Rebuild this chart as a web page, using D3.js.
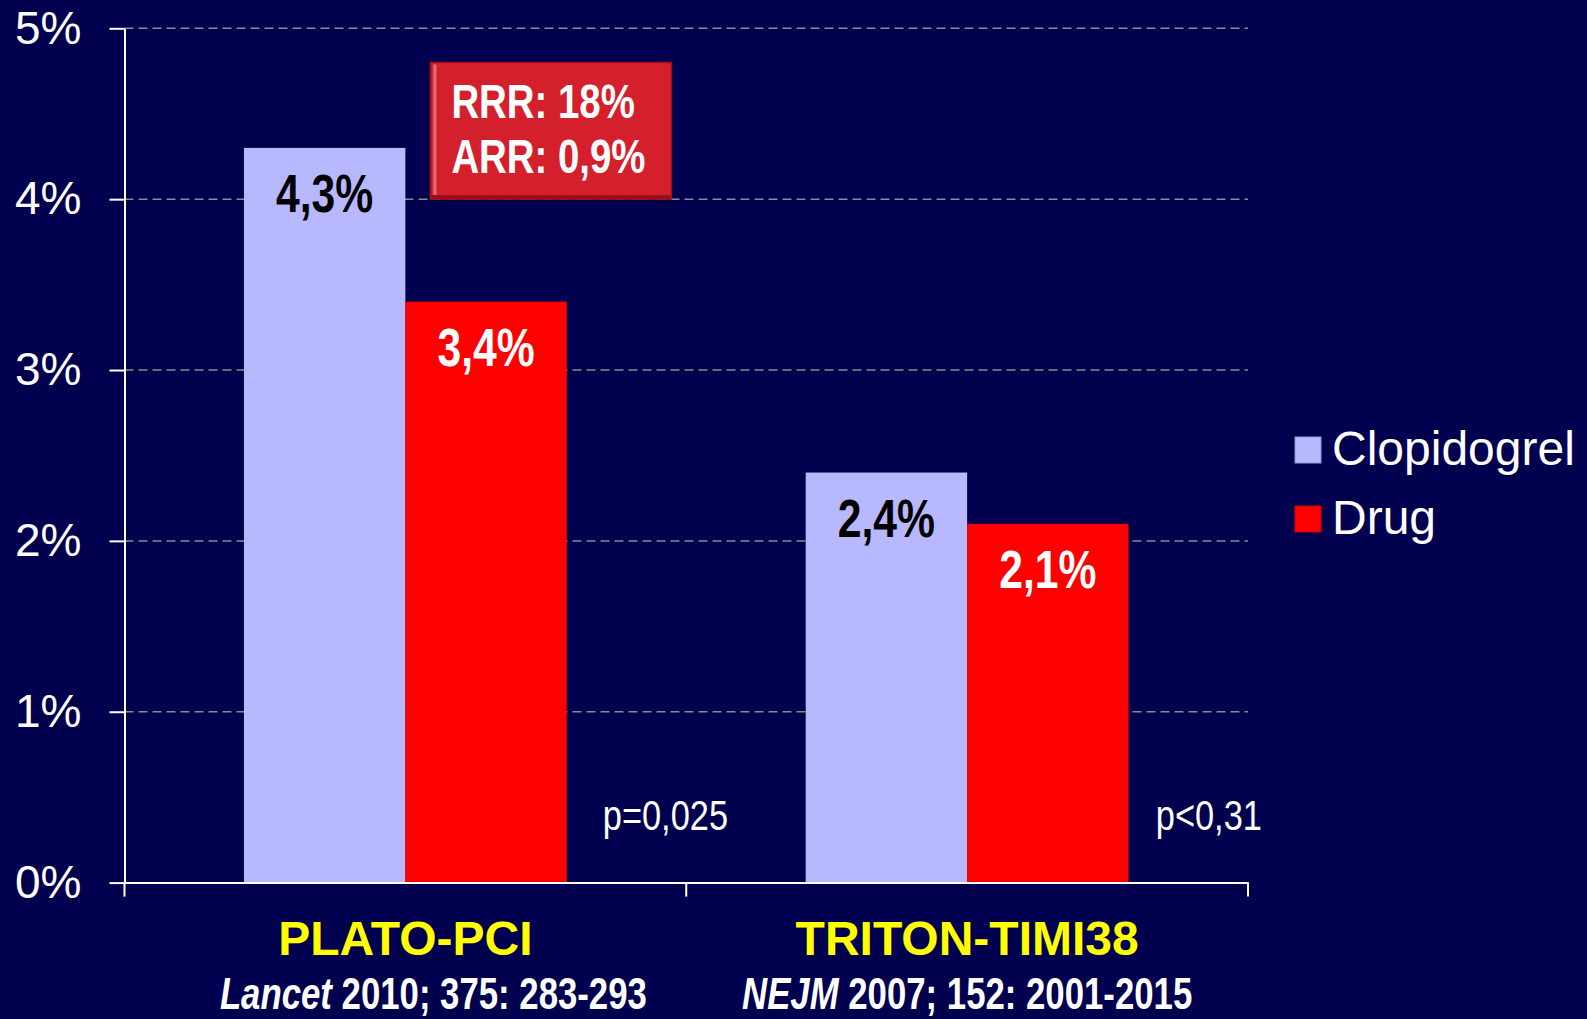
<!DOCTYPE html>
<html>
<head>
<meta charset="utf-8">
<script src="https://d3js.org/d3.v7.min.js"></script>
<style>
  html, body { margin: 0; padding: 0; background: #00004e; }
  svg text { font-family: "Liberation Sans", Arial, sans-serif; }
</style>
</head>
<body>
<div id="chart"></div>
<script>
var width = 1587,
    height = 1019;

// data
var categories = ["PLATO-PCI", "TRITON-TIMI38"];
var journals   = ["Lancet", "NEJM"];
var citations  = [" 2010; 375: 283-293", " 2007; 152: 2001-2015"];
var series     = ["Clopidogrel", "Drug"];
var clopidogrel = [4.3, 2.4];
var drug        = [3.4, 2.1];
var pValues    = ["p=0,025", "p<0,31"];
var yTicks     = [0, 1, 2, 3, 4, 5];
var boxLines   = ["RRR: 18%", "ARR: 0,9%"];

var colors = { "Clopidogrel": "#b8b8ff", "Drug": "#ff0000" };
var labelColors = { "Clopidogrel": "#000000", "Drug": "#ffffff" };

var rows = categories.map(function(c, i) {
  return { cat: c, values: [
    { s: "Clopidogrel", v: clopidogrel[i] },
    { s: "Drug", v: drug[i] } ] };
});

var comma = d3.formatLocale({ decimal: ",", thousands: ".", grouping: [3], currency: ["", ""] });
var fmt = function(v) { return comma.format(".1f")(v) + "%"; };

var svg = d3.select("#chart")
            .append("svg")
            .attr("width", width)
            .attr("height", height);

svg.append("rect")
   .attr("width", width)
   .attr("height", height)
   .attr("fill", "#00004e");

var y = d3.scaleLinear()
          .domain([0, 5])
          .range([882.6, 28.3]);

var x0 = d3.scaleBand()
           .domain(categories)
           .range([124.5, 1248]);

var x1 = d3.scaleBand()
           .domain(series)
           .range([0, x0.bandwidth()])
           .paddingOuter(0.74);

// dashed grid
svg.append("g")
   .selectAll("line")
   .data(yTicks.filter(function(t) { return t > 0; }))
   .enter().append("line")
   .attr("x1", 124.5)
   .attr("x2", 1248)
   .attr("y1", function(d) { return y(d); })
   .attr("y2", function(d) { return y(d); })
   .attr("stroke", "#8c8c8c")
   .attr("stroke-width", 1.5)
   .attr("stroke-dasharray", "9,5");

// bars
var group = svg.selectAll(".grp")
               .data(rows)
               .enter().append("g")
               .attr("class", "grp")
               .attr("transform", function(d) { return "translate(" + x0(d.cat) + ",0)"; });

group.selectAll("rect")
     .data(function(d) { return d.values; })
     .enter().append("rect")
     .attr("x", function(d) { return x1(d.s); })
     .attr("width", x1.bandwidth())
     .attr("y", function(d) { return y(d.v); })
     .attr("height", function(d) { return y(0) - y(d.v); })
     .attr("fill", function(d) { return colors[d.s]; });

group.selectAll(".val")
     .data(function(d) { return d.values; })
     .enter().append("text")
     .attr("class", "val")
     .attr("transform", function(d) {
        return "translate(" + (x1(d.s) + x1.bandwidth() / 2) + "," + (y(d.v) + 64) + ") scale(0.79,1)";
     })
     .attr("text-anchor", "middle")
     .style("font-size", "54px")
     .style("font-weight", "bold")
     .attr("fill", function(d) { return labelColors[d.s]; })
     .text(function(d) { return fmt(d.v); });

// p values next to the red bars
group.append("text")
     .attr("transform", function(d, i) {
        return "translate(" + (x1("Drug") + x1.bandwidth() + 32) + "," + (y(0) - 53) + ") scale(0.8,1)";
     })
     .attr("dx", function(d, i) { return i === 0 ? 5 : -6; })
     .style("font-size", "43px")
     .attr("fill", "#ffffff")
     .text(function(d, i) { return pValues[i]; });

// y axis
var yAxis = svg.append("g")
               .attr("transform", "translate(124.5,0)")
               .call(d3.axisLeft(y).tickValues(yTicks).tickSize(15).tickSizeOuter(0)
                       .tickPadding(28).tickFormat(function(d) { return d + "%"; }));
yAxis.selectAll("path, line").attr("stroke", "#ffffff").attr("stroke-width", 2);
yAxis.selectAll("text").attr("fill", "#ffffff").style("font-size", "46px")
     .style("font-family", "'Liberation Sans', Arial, sans-serif");

// x axis, ticks at the band edges
var xAxis = svg.append("g")
               .attr("transform", "translate(0," + y(0) + ")")
               .call(d3.axisBottom(x0).tickSize(0).tickSizeOuter(0).tickFormat(""));
xAxis.select("path").attr("stroke", "#ffffff").attr("stroke-width", 2);

var edges = categories.map(function(c) { return x0(c); })
                      .concat([x0(categories[categories.length - 1]) + x0.bandwidth()]);
xAxis.selectAll(".edge")
     .data(edges)
     .enter().append("line")
     .attr("class", "edge")
     .attr("x1", function(d) { return d; })
     .attr("x2", function(d) { return d; })
     .attr("y1", 0)
     .attr("y2", 14)
     .attr("stroke", "#ffffff")
     .attr("stroke-width", 2);

// category names + references
svg.selectAll(".cat")
   .data(categories)
   .enter().append("text")
   .attr("class", "cat")
   .attr("x", function(d) { return x0(d) + x0.bandwidth() / 2; })
   .attr("y", 955)
   .attr("text-anchor", "middle")
   .style("font-size", "48px")
   .style("font-weight", "bold")
   .attr("fill", "#ffff00")
   .text(function(d) { return d; });

var refShift = [28, 0];
var ref = svg.selectAll(".ref")
             .data(categories)
             .enter().append("text")
             .attr("class", "ref")
             .attr("transform", function(d, i) {
                return "translate(" + (x0(d) + x0.bandwidth() / 2 + refShift[i]) + ",1009) scale(0.79,1)";
             })
             .attr("text-anchor", "middle")
             .style("font-size", "44px")
             .style("font-weight", "bold")
             .attr("fill", "#ffffff");
ref.append("tspan")
   .style("font-style", "italic")
   .text(function(d, i) { return journals[i]; });
ref.append("tspan")
   .text(function(d, i) { return citations[i]; });

// RRR / ARR box
var bx = x0(categories[0]) + x1("Drug") + 25,
    bw = 241,
    by = y(4.8),
    bh = y(4) - y(4.8);

var defs = svg.append("defs");
var grad = defs.append("linearGradient").attr("id", "edgeL");
grad.append("stop").attr("offset", "0%").attr("stop-color", "#a8121e");
grad.append("stop").attr("offset", "60%").attr("stop-color", "#f27a86");
grad.append("stop").attr("offset", "100%").attr("stop-color", "#d4202c");

var box = svg.append("g");
box.append("rect")
   .attr("x", bx).attr("y", by)
   .attr("width", bw).attr("height", bh)
   .attr("fill", "#d4202c")
   .attr("stroke", "#a0101c")
   .attr("stroke-width", 1.5);
box.append("rect")
   .attr("x", bx + 1).attr("y", by + 2)
   .attr("width", 6).attr("height", bh - 6)
   .attr("fill", "url(#edgeL)");
box.append("rect")
   .attr("x", bx + 1).attr("y", by + bh - 4)
   .attr("width", bw - 2).attr("height", 4)
   .attr("fill", "#9a0e18");

box.selectAll("text")
   .data(boxLines)
   .enter().append("text")
   .attr("transform", function(d, i) {
      return "translate(" + (bx + 21) + "," + (by + 56 + i * 55) + ") scale(0.8,1)";
   })
   .style("font-size", "48px")
   .style("font-weight", "bold")
   .attr("fill", "#ffffff")
   .text(function(d) { return d; });

// legend
var legend = svg.selectAll(".leg")
                .data(series)
                .enter().append("g")
                .attr("class", "leg")
                .attr("transform", function(d, i) { return "translate(1295," + (437 + i * 69) + ")"; });
legend.append("rect")
      .attr("width", 26)
      .attr("height", 26)
      .attr("fill", function(d) { return colors[d]; })
      .attr("stroke", function(d) { return d3.color(colors[d]).darker(0.6); })
      .attr("stroke-width", 1);
legend.append("text")
      .attr("x", 37)
      .attr("y", 28)
      .style("font-size", "48px")
      .attr("fill", "#ffffff")
      .text(function(d) { return d; });
</script>
</body>
</html>
